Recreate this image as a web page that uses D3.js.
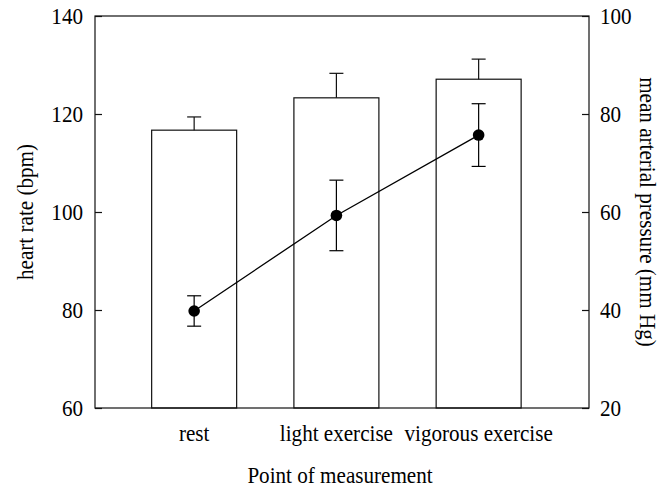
<!DOCTYPE html>
<html>
<head>
<meta charset="utf-8">
<script src="https://cdn.jsdelivr.net/npm/d3@7"></script>
<style>
  body { margin: 0; background: #fff; }
  svg text { font-family: "Liberation Serif", "Times New Roman", Times, "DejaVu Serif", serif; fill: #000; font-size: 24px; }
</style>
</head>
<body>
<div id="canvas"></div>
<script>
const categories = ["rest", "light exercise", "vigorous exercise"];
const heartRate = [116.7, 123.3, 127.1];
const heartRateErr = [2.7, 5.0, 4.1];
const pressure = [39.8, 59.3, 75.7];
const pressureErr = [3.1, 7.2, 6.4];
const leftTicks = [60, 80, 100, 120, 140];
const rightTicks = [20, 40, 60, 80, 100];

const width = 670;
const height = 490;
const margin = { top: 16, left: 95, bottom: 82, right: 81 };
const iwidth = width - margin.left - margin.right;
const iheight = height - margin.top - margin.bottom;
const serif = "'Liberation Serif', 'Times New Roman', Times, 'DejaVu Serif', serif";
const sx = 0.88; // text looks horizontally squeezed in the original

const svg = d3.select("#canvas").append("svg")
  .attr("width", width)
  .attr("height", height);

const g = svg.append("g").attr("transform", `translate(${margin.left},${margin.top})`);

const x = d3.scaleBand()
  .domain(categories)
  .range([0, iwidth])
  .paddingInner(0.4025)
  .paddingOuter(0.4377)
  .align(0.455);

const yL = d3.scaleLinear().domain([60, 140]).range([iheight, 0]);
const yR = d3.scaleLinear().domain([20, 100]).range([iheight, 0]);

const stroke = "#111";

// bars
g.selectAll("rect.bar").data(categories).enter().append("rect")
  .attr("class", "bar")
  .attr("x", d => x(d))
  .attr("y", (d, i) => yL(heartRate[i]))
  .attr("width", x.bandwidth())
  .attr("height", (d, i) => iheight - yL(heartRate[i]))
  .attr("fill", "#fff")
  .attr("stroke", stroke)
  .attr("stroke-width", 1.2);

const cx = d => x(d) + x.bandwidth() / 2;
const cap = 7;

// upper error bars on bars
const barErr = g.append("g").attr("stroke", stroke).attr("stroke-width", 1.2);
categories.forEach((d, i) => {
  const top = yL(heartRate[i] + heartRateErr[i]);
  barErr.append("line").attr("x1", cx(d)).attr("x2", cx(d))
    .attr("y1", yL(heartRate[i])).attr("y2", top);
  barErr.append("line").attr("x1", cx(d) - cap).attr("x2", cx(d) + cap)
    .attr("y1", top).attr("y2", top);
});

// pressure line
const line = d3.line().x(d => cx(d)).y((d, i) => yR(pressure[i]));
g.append("path").datum(categories)
  .attr("d", line)
  .attr("fill", "none")
  .attr("stroke", "#000")
  .attr("stroke-width", 1.3);

// pressure error bars
const pErr = g.append("g").attr("stroke", "#000").attr("stroke-width", 1.2);
categories.forEach((d, i) => {
  const hi = yR(pressure[i] + pressureErr[i]);
  const lo = yR(pressure[i] - pressureErr[i]);
  pErr.append("line").attr("x1", cx(d)).attr("x2", cx(d)).attr("y1", hi).attr("y2", lo);
  pErr.append("line").attr("x1", cx(d) - cap).attr("x2", cx(d) + cap).attr("y1", hi).attr("y2", hi);
  pErr.append("line").attr("x1", cx(d) - cap).attr("x2", cx(d) + cap).attr("y1", lo).attr("y2", lo);
});

g.selectAll("circle").data(categories).enter().append("circle")
  .attr("cx", d => cx(d))
  .attr("cy", (d, i) => yR(pressure[i]))
  .attr("r", 5.8)
  .attr("fill", "#000");

// frame
g.append("rect")
  .attr("width", iwidth).attr("height", iheight)
  .attr("fill", "none").attr("stroke", stroke).attr("stroke-width", 1.2);

// axes
const left = g.append("g")
  .call(d3.axisLeft(yL).tickValues(leftTicks).tickSizeInner(-7).tickSizeOuter(0).tickPadding(12));
const right = g.append("g")
  .attr("transform", `translate(${iwidth},0)`)
  .call(d3.axisRight(yR).tickValues(rightTicks).tickSizeInner(-7).tickSizeOuter(0).tickPadding(11));
const bottom = g.append("g")
  .attr("transform", `translate(0,${iheight})`)
  .call(d3.axisBottom(x).tickSize(0).tickPadding(16));

[left, right, bottom].forEach(a => {
  a.attr("font-family", serif).attr("font-size", 24);
  a.select(".domain").remove();
  a.selectAll("line").attr("stroke", stroke).attr("stroke-width", 1.2);
  a.selectAll("text").each(function() {
    const t = d3.select(this);
    const tx = +t.attr("x") || 0;
    t.attr("x", tx / sx).attr("transform", `scale(${sx},1)`);
  });
});

// axis titles
svg.append("text")
  .attr("transform", `translate(33,${margin.top + iheight / 2}) rotate(-90) scale(${sx},1)`)
  .attr("text-anchor", "middle")
  .text("heart rate (bpm)");

svg.append("text")
  .attr("transform", `translate(640,${margin.top + iheight / 2}) rotate(90) scale(${sx},1)`)
  .attr("text-anchor", "middle")
  .text("mean arterial pressure (mm Hg)");

svg.append("text")
  .attr("transform", `translate(340,483) scale(${sx},1)`)
  .attr("text-anchor", "middle")
  .text("Point of measurement");
</script>
</body>
</html>
